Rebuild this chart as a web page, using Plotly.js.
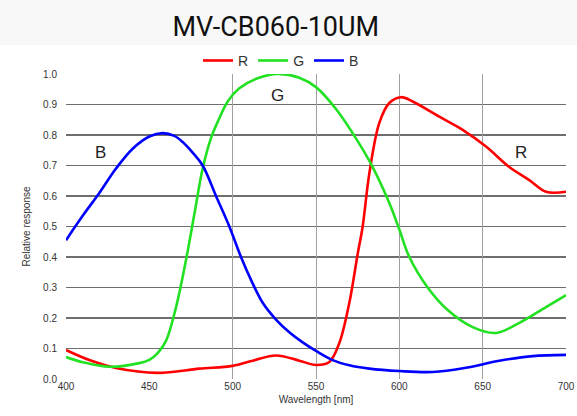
<!DOCTYPE html>
<html>
<head>
<meta charset="utf-8">
<script src="https://cdn.plot.ly/plotly-3.0.1.min.js"></script>
<style>html,body{margin:0;padding:0;background:#fff;}#chart{width:577px;height:416px;}</style>
</head>
<body>
<div id="chart"></div>
<script>
// Wavelengths (nm) and relative response for each channel
const blueWl  = [400,410,420,430,440,450,458,465,470,476,482,490,498,505,511,518,526,534,542,550,560,570,582,600,620,640,660,680,700];
const blueVal = [0.455,0.535,0.61,0.69,0.755,0.795,0.806,0.797,0.777,0.742,0.70,0.60,0.50,0.40,0.325,0.25,0.195,0.153,0.12,0.092,0.062,0.045,0.034,0.026,0.023,0.037,0.06,0.075,0.079];

const greenWl  = [400,410,426,444,450,455,460,466,472,477,482,487,492,497,504,515,527,540,550,562,575,584,594,600,606,617,629,644,658,672,688,700];
const greenVal = [0.072,0.055,0.04,0.052,0.063,0.085,0.125,0.235,0.39,0.54,0.69,0.79,0.855,0.91,0.953,0.986,1.0,0.988,0.957,0.885,0.78,0.695,0.577,0.49,0.40,0.30,0.226,0.17,0.151,0.184,0.236,0.275];

const redWl  = [400,414,430,455,480,500,512,526,540,550,558,564,570,575,578,582,588,594,601,608,624,638,652,666,678,688,700];
const redVal = [0.095,0.062,0.036,0.02,0.034,0.043,0.06,0.077,0.06,0.046,0.056,0.118,0.25,0.41,0.50,0.674,0.84,0.905,0.924,0.91,0.86,0.817,0.762,0.695,0.652,0.614,0.614];

const seriesNames = ['R','G','B'];
const chartTitle = 'MV-CB060-10UM';
const xTickVals = [400,450,500,550,600,650,700];
const xGridVals = [500,550,600,650,700];
const yTickVals = [0,0.1,0.2,0.3,0.4,0.5,0.6,0.7,0.8,0.9,1.0];
const curveLabels = [
  {text:'B', x:420.5, y:0.742},
  {text:'G', x:526.6, y:0.928},
  {text:'R', x:673,   y:0.742}
];

const lineBase = {mode:'lines', line:{width:2.6, shape:'spline', smoothing:1.0}, hoverinfo:'skip'};
const traces = [
  Object.assign({}, lineBase, {name:seriesNames[0], x:redWl, y:redVal, line:Object.assign({}, lineBase.line, {color:'#ff0000'})}),
  Object.assign({}, lineBase, {name:seriesNames[1], x:greenWl, y:greenVal, line:Object.assign({}, lineBase.line, {color:'#22e022'})}),
  Object.assign({}, lineBase, {name:seriesNames[2], x:blueWl, y:blueVal, line:Object.assign({}, lineBase.line, {color:'#0000ff'})}),
  // invisible helper trace so the secondary (grid-only) x axis is drawn
  {x:[400,700], y:[0,0], xaxis:'x2', mode:'lines', line:{width:0}, showlegend:false, hoverinfo:'skip', opacity:0}
];

const axisText = {size:10, color:'#333333'};
const layout = {
  width:577, height:416,
  margin:{l:66, r:11, t:74, b:37},
  paper_bgcolor:'#ffffff', plot_bgcolor:'#ffffff',
  font:{family:'"Liberation Sans", Arial, sans-serif', color:'#333333'},
  title:{text:chartTitle, font:{family:'Roboto, sans-serif', size:27, color:'#111111'}, x:0.478, xref:'container', xanchor:'center', y:0.937, yref:'container', yanchor:'middle'},
  showlegend:true,
  legend:{orientation:'h', x:0.43, xref:'paper', xanchor:'center', y:1.043, yanchor:'middle', font:{size:14, color:'#333333'}, itemwidth:30, bgcolor:'rgba(0,0,0,0)'},
  xaxis:{range:[400,700], tickvals:xTickVals, ticktext:xTickVals.map(String), showgrid:false,
         zeroline:false, showline:false, ticks:'', tickfont:axisText,
         title:{text:'Wavelength [nm]', font:axisText, standoff:4}},
  xaxis2:{range:[400,700], overlaying:'x', matches:'x', tickvals:xGridVals, showticklabels:false, ticks:'',
          showgrid:true, gridcolor:'#a0a0a0', gridwidth:1, zeroline:false, showline:false},
  yaxis:{range:[0,1.0], tickvals:yTickVals, ticktext:yTickVals.map(v=>v.toFixed(1)), showgrid:true, gridcolor:'#6e6e6e', gridwidth:1.3,
         zeroline:false, showline:false, ticks:'', tickfont:axisText, ticklabelstandoff:8,
         title:{text:'Relative response', font:axisText, standoff:10}},
  shapes:[{type:'rect', xref:'paper', yref:'paper', x0:-0.14, x1:1.03, y0:1.095, y1:1.25, fillcolor:'#f8f8f8', line:{width:0}, layer:'below'}],
  annotations:curveLabels.map(c=>({text:c.text, x:c.x, y:c.y, xref:'x', yref:'y', showarrow:false, font:{size:17, color:'#222222'}}))
};

Plotly.newPlot('chart', traces, layout, {staticPlot:true, displayModeBar:false});
</script>
</body>
</html>
